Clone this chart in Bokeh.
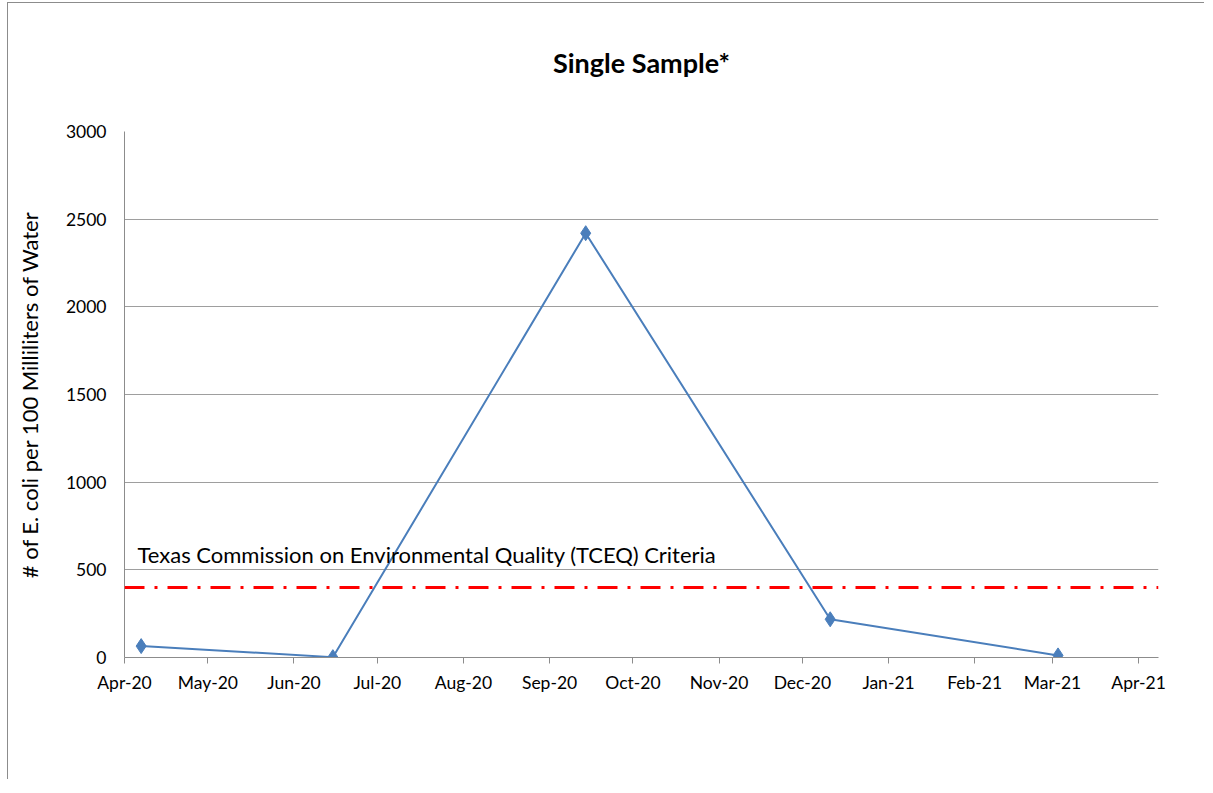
from datetime import datetime
from bokeh.plotting import figure
from bokeh.models import (ColumnDataSource, Span, Label, DatetimeTickFormatter,
                          MonthsTicker, FixedTicker, Range1d, LinearAxis)
from bokeh.embed import file_html
from bokeh.resources import INLINE

# ---- data ----
sample_dates = [datetime(2020, 4, 7), datetime(2020, 6, 15), datetime(2020, 9, 14),
                datetime(2020, 12, 11), datetime(2021, 3, 3)]
ecoli_counts = [65, 2, 2420, 218, 12]
criterion = 399
criterion_label = "Texas Commission on Environmental Quality (TCEQ) Criteria"
title_text = "Single Sample*"
y_label = "# of E. coli per 100 Milliliters of Water"
y_ticks = [0, 500, 1000, 1500, 2000, 2500, 3000]

FONT = "Lato"
src = ColumnDataSource(dict(x=sample_dates, y=ecoli_counts))

p = figure(width=1197, height=777, output_backend="svg", toolbar_location=None,
           x_axis_type="datetime",
           x_range=Range1d(datetime(2020, 4, 1), datetime(2021, 4, 8, 4)),
           y_range=Range1d(0, 3000),
           min_border_left=116, min_border_right=47, min_border_top=128,
           min_border_bottom=123)
p.outline_line_color = None
p.background_fill_color = "white"
p.border_fill_color = "white"
p.styles = {"border-left": "1px solid #8c8c8c", "border-top": "1px solid #8c8c8c",
            "margin-left": "7px", "margin-top": "2px"}

# grid
p.xgrid.grid_line_color = None
p.ygrid.grid_line_color = "#9e9e9e"
p.ygrid.grid_line_width = 1
p.yaxis.ticker = FixedTicker(ticks=y_ticks)
p.xaxis.ticker = MonthsTicker(months=list(range(1, 13)))
p.xaxis.formatter = DatetimeTickFormatter(months="%b-%y", days="%b-%y")

for ax in (p.xaxis[0], p.yaxis[0]):
    ax.axis_line_color = "#8c8c8c"
    ax.major_tick_line_color = "#8c8c8c"
    ax.minor_tick_line_color = None
    ax.major_label_text_font = FONT
    ax.major_label_text_font_size = "17.5px"
    ax.major_label_text_color = "black"

p.yaxis.major_tick_out = 0
p.yaxis.major_tick_in = 0
p.yaxis.major_label_standoff = 18
p.yaxis.axis_label = y_label
p.yaxis.axis_label_text_font = FONT
p.yaxis.axis_label_text_font_size = "22px"
p.yaxis.axis_label_text_font_style = "normal"
p.yaxis.axis_label_text_color = "black"
p.yaxis.axis_label_standoff = 20

p.xaxis.major_tick_out = 6
p.xaxis.major_tick_in = 0
p.xaxis.major_label_standoff = 8

# title drawn as the label of an empty axis above the plot
top = LinearAxis(ticker=FixedTicker(ticks=[]), axis_line_color=None,
                 major_tick_line_color=None, minor_tick_line_color=None,
                 major_label_text_font_size="0px", major_label_standoff=0,
                 axis_label=title_text, axis_label_text_font=FONT,
                 axis_label_text_font_size="27px", axis_label_text_font_style="bold",
                 axis_label_text_color="black", axis_label_standoff=53)
p.add_layout(top, "above")

# criterion line
p.add_layout(Span(location=criterion, dimension="width", line_color="red",
                  line_width=3, line_dash="20 10 3 10"))

# data
p.line("x", "y", source=src, line_color="#4a7ebb", line_width=2)
p.scatter("x", "y", source=src, marker="diamond", size=15, fill_color="#4a7ebb",
          line_color="#4a7ebb")

# annotation
p.add_layout(Label(x=datetime(2020, 4, 1), y=criterion, x_offset=13, y_offset=33,
                   text=criterion_label, text_font=FONT, text_font_size="22px",
                   text_color="black", text_baseline="alphabetic"))

open("out.html", "w").write(file_html(p, INLINE))
